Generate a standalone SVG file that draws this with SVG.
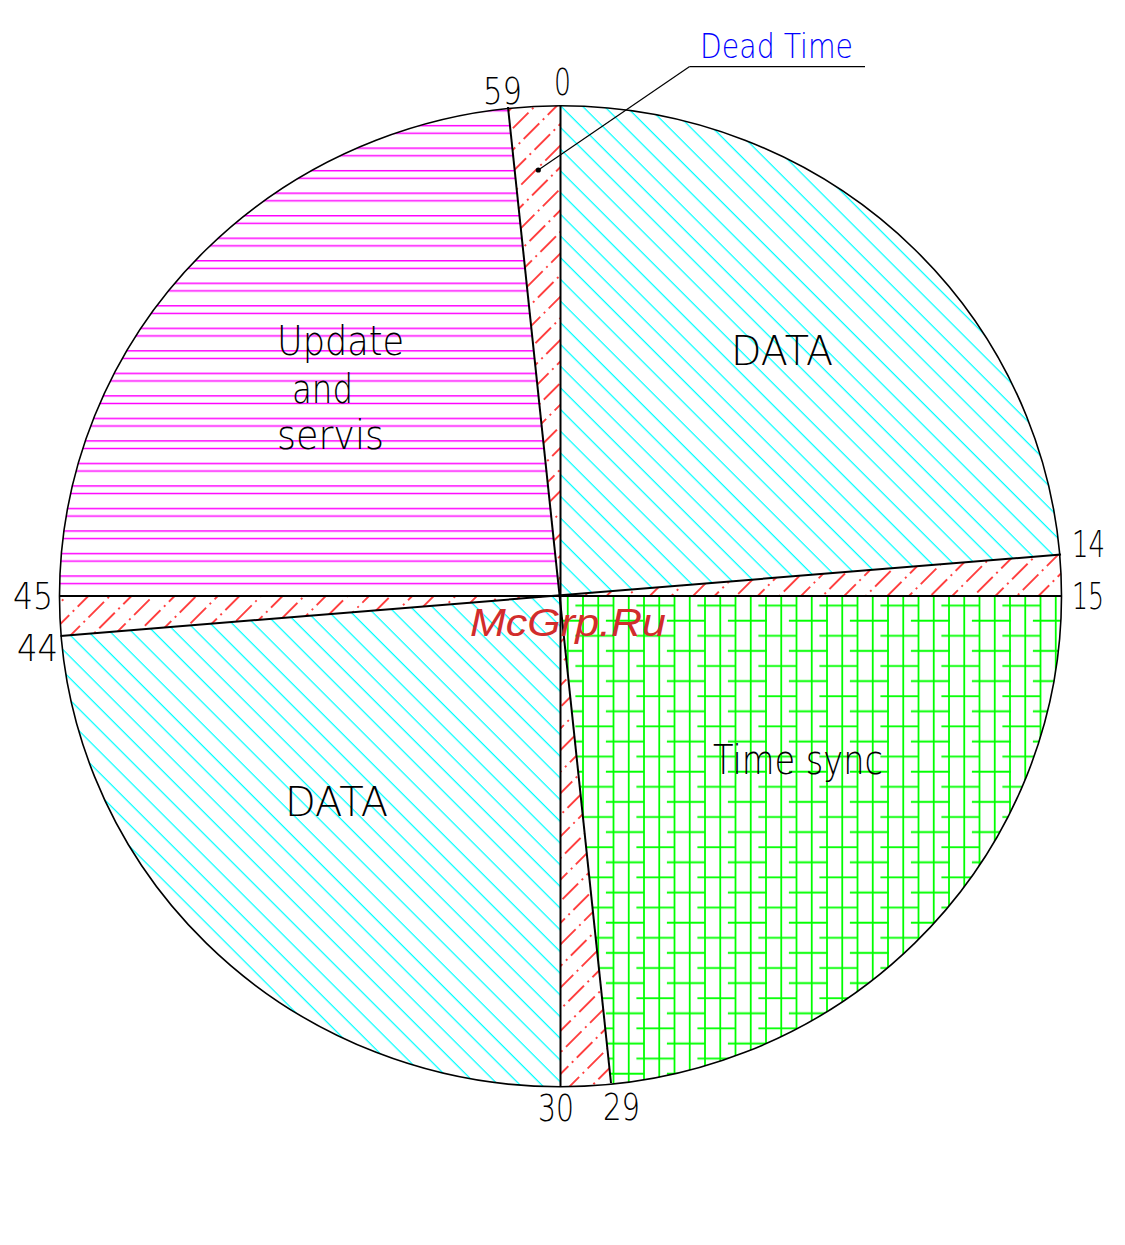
<svg xmlns="http://www.w3.org/2000/svg" width="1125" height="1245" viewBox="0 0 1125 1245">
<style>
.lbl{font-family:"DejaVu Sans","Liberation Sans",sans-serif;font-weight:200;fill:#000}
.num{font-size:38px}
.big{font-size:40px}
.edge{stroke:#000;stroke-width:2;fill:none}
</style>
<defs>
<clipPath id="disk"><ellipse cx="560.5" cy="596.3" rx="501" ry="490.5"/></clipPath>
<pattern id="cyanHatch" patternUnits="userSpaceOnUse" width="20" height="15.34" patternTransform="rotate(45)">
<line x1="0" y1="0.6" x2="20" y2="0.6" stroke="#00FFFF" stroke-width="1.3"/>
</pattern>
<pattern id="redHatch" patternUnits="userSpaceOnUse" width="34" height="15.27" patternTransform="rotate(-45)">
<line x1="0" y1="10.5" x2="34" y2="10.5" stroke="#FF0000" stroke-width="1.4" stroke-dasharray="22 5 2 5"/>
</pattern>
<pattern id="magHatch" patternUnits="userSpaceOnUse" x="0" y="215" width="40" height="22.52">
<line x1="0" y1="0.7" x2="40" y2="0.7" stroke="#FF00FF" stroke-width="1.5"/>
<line x1="0" y1="8.3" x2="40" y2="8.3" stroke="#FF00FF" stroke-width="1.5"/>
</pattern>
<pattern id="greenBrick" patternUnits="userSpaceOnUse" x="705" y="854.75" width="61" height="30.2">
<g stroke="#00FF00" stroke-width="1.8">
<line x1="0" y1="0" x2="0" y2="30.2"/>
<line x1="15.25" y1="0" x2="15.25" y2="30.2"/>
<line x1="30.5" y1="0" x2="30.5" y2="30.2"/>
<line x1="45.75" y1="0" x2="45.75" y2="30.2"/>
<line x1="61" y1="0" x2="61" y2="30.2"/>
<line x1="22.9" y1="7.55" x2="61" y2="7.55"/>
<line x1="0" y1="22.65" x2="30.5" y2="22.65"/>
<line x1="53.4" y1="22.65" x2="61" y2="22.65"/>
</g>
</pattern>
</defs>
<rect width="1125" height="1245" fill="#fff"/>
<g clip-path="url(#disk)">
<g id="sector-data-1"><polygon points="560.5,596 560.5,0 1125,0 1125,549.2" fill="url(#cyanHatch)"/></g>
<g id="dead-14-15"><polygon points="560.5,596 1125,549.2 1125,596" fill="url(#redHatch)"/></g>
<g id="sector-time-sync"><polygon points="560.5,596 1125,596 1125,1245 627.8,1245" fill="url(#greenBrick)"/></g>
<g id="dead-29-30"><polygon points="560.5,596 627.8,1245 560.5,1245" fill="url(#redHatch)"/></g>
<g id="sector-data-2"><polygon points="560.5,596 560.5,1245 0,1245 0,640.8" fill="url(#cyanHatch)"/></g>
<g id="dead-44-45"><polygon points="560.5,596 0,640.8 0,596" fill="url(#redHatch)"/></g>
<g id="sector-update"><polygon points="560.5,596 0,596 0,0 496.5,0" fill="url(#magHatch)"/></g>
<g id="dead-59-0"><polygon points="560.5,596 496.5,0 560.5,0" fill="url(#redHatch)"/></g>
</g>
<g id="outline">
<ellipse cx="560.5" cy="596.3" rx="501" ry="490.5" fill="none" stroke="#000" stroke-width="1.6"/>
<line class="edge" x1="560.5" y1="105.8" x2="560.5" y2="1086.8"/>
<line class="edge" x1="59.5" y1="596" x2="1061.5" y2="596"/>
<line class="edge" x1="508" y1="107" x2="611" y2="1083"/>
<line class="edge" x1="1061" y1="554.5" x2="60.5" y2="636"/>
</g>
<g id="connectors">
<line x1="865" y1="66.7" x2="689.3" y2="66.7" stroke="#000" stroke-width="1.2"/>
<line x1="689.3" y1="66.7" x2="538.3" y2="170" stroke="#000" stroke-width="1.2"/>
<circle cx="538.3" cy="170" r="2.6" fill="#000"/>
</g>
<g id="labels">
<text x="700" y="57.5" font-family="DejaVu Sans, Liberation Sans, sans-serif" font-weight="200" font-size="33" fill="#0000FF" textLength="153" lengthAdjust="spacingAndGlyphs">Dead Time</text>
<text class="lbl num" x="554" y="95" textLength="17" lengthAdjust="spacingAndGlyphs">0</text>
<text class="lbl num" x="483" y="104" textLength="39" lengthAdjust="spacingAndGlyphs">59</text>
<text class="lbl num" x="1072" y="557" textLength="33" lengthAdjust="spacingAndGlyphs">14</text>
<text class="lbl num" x="1072" y="609" textLength="32" lengthAdjust="spacingAndGlyphs">15</text>
<text class="lbl num" x="13" y="609" textLength="40" lengthAdjust="spacingAndGlyphs">45</text>
<text class="lbl num" x="17" y="660.5" textLength="41" lengthAdjust="spacingAndGlyphs">44</text>
<text class="lbl num" x="538" y="1121" textLength="36" lengthAdjust="spacingAndGlyphs">30</text>
<text class="lbl num" x="603" y="1119.5" textLength="37" lengthAdjust="spacingAndGlyphs">29</text>
<text class="lbl big" x="731" y="365" textLength="102" lengthAdjust="spacingAndGlyphs">DATA</text>
<text class="lbl big" x="277" y="354.5" textLength="127" lengthAdjust="spacingAndGlyphs">Update</text>
<text class="lbl big" x="292" y="403" textLength="61" lengthAdjust="spacingAndGlyphs">and</text>
<text class="lbl big" x="277" y="449" textLength="107" lengthAdjust="spacingAndGlyphs">servis</text>
<text class="lbl big" x="713" y="774" textLength="170" lengthAdjust="spacingAndGlyphs">Time sync</text>
<text class="lbl big" x="285" y="816" textLength="103" lengthAdjust="spacingAndGlyphs">DATA</text>
<text x="470" y="636" font-family="Liberation Sans, sans-serif" font-style="italic" font-size="38" fill="#D22C2C" textLength="196" lengthAdjust="spacingAndGlyphs">McGrp.Ru</text>
</g>
</svg>
